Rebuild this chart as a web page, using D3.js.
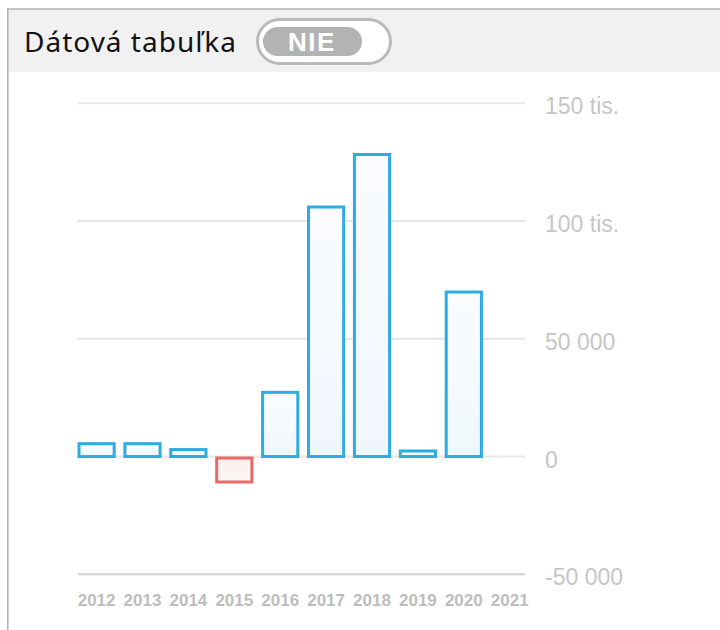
<!DOCTYPE html>
<html>
<head>
<meta charset="utf-8">
<script src="https://cdn.jsdelivr.net/npm/d3@7"></script>
<style>
  html, body { margin: 0; padding: 0; background: #fff; }
  svg { display: block; }
</style>
</head>
<body>
<div id="chart"></div>
<script>
// data
const years = ['2012', '2013', '2014', '2015', '2016', '2017', '2018', '2019', '2020', '2021'];
const values = [6100, 6100, 3600, -10800, 27900, 106600, 128900, 3000, 70500, null];
const yTicks = [-50000, 0, 50000, 100000, 150000];
const yTickLabels = ['-50 000', '0', '50 000', '100 tis.', '150 tis.'];
const headerTitle = 'Dátová tabuľka';
const toggleLabel = 'NIE';

const width = 720;
const height = 630;

const svg = d3.select('#chart').append('svg')
  .attr('width', width)
  .attr('height', height);

const defs = svg.append('defs');
const gradBlue = defs.append('linearGradient').attr('id', 'gBlue').attr('x1', 0).attr('y1', 0).attr('x2', 0).attr('y2', 1);
gradBlue.append('stop').attr('offset', '0%').attr('stop-color', '#fafcfe');
gradBlue.append('stop').attr('offset', '100%').attr('stop-color', '#eff7fb');
const gradRed = defs.append('linearGradient').attr('id', 'gRed').attr('x1', 0).attr('y1', 0).attr('x2', 0).attr('y2', 1);
gradRed.append('stop').attr('offset', '0%').attr('stop-color', '#fbf0ef');
gradRed.append('stop').attr('offset', '100%').attr('stop-color', '#fdf8f7');

// header band + frame
svg.append('rect')
  .attr('x', 8).attr('y', 9)
  .attr('width', width - 8).attr('height', 63)
  .attr('fill', '#f1f1f1');

svg.append('line')
  .attr('x1', 7).attr('x2', width)
  .attr('y1', 9).attr('y2', 9)
  .attr('stroke', '#b4b4b4').attr('stroke-width', 1.6);

svg.append('line')
  .attr('x1', 7.8).attr('x2', 7.8)
  .attr('y1', 8).attr('y2', height)
  .attr('stroke', '#b4b4b4').attr('stroke-width', 1.6);

svg.append('text')
  .attr('x', 24)
  .attr('y', 52)
  .style('font-family', '"Noto Sans", sans-serif')
  .style('font-size', '28px')
  .style('letter-spacing', '1px')
  .attr('fill', '#111')
  .text(headerTitle);

// toggle
svg.append('rect')
  .attr('x', 257.5).attr('y', 19.5)
  .attr('width', 133).attr('height', 44)
  .attr('rx', 22)
  .attr('fill', '#fff')
  .attr('stroke', '#bababa')
  .attr('stroke-width', 3);

svg.append('rect')
  .attr('x', 263).attr('y', 27)
  .attr('width', 99).attr('height', 29)
  .attr('rx', 14.5)
  .attr('fill', '#b3b3b3');

svg.append('text')
  .attr('x', 312)
  .attr('y', 51)
  .attr('text-anchor', 'middle')
  .style('font-family', '"Liberation Sans", Arial, sans-serif')
  .style('font-size', '26px')
  .style('font-weight', 'bold')
  .style('letter-spacing', '1.5px')
  .attr('fill', '#fff')
  .text(toggleLabel);

// scales
const x = d3.scaleBand()
  .domain(years)
  .range([77.5, 528.8])
  .paddingInner(0.168)
  .paddingOuter(0);

const y = d3.scaleLinear()
  .domain([-50000, 150000])
  .range([574.3, 103.3]);

// gridlines
const g = svg.append('g');

g.selectAll('line.grid')
  .data(yTicks)
  .enter()
  .append('line')
  .attr('class', 'grid')
  .attr('x1', 78)
  .attr('x2', 525)
  .attr('y1', d => y(d))
  .attr('y2', d => y(d))
  .attr('stroke', d => d === -50000 ? '#d2d2d2' : '#e6e6e6')
  .attr('stroke-width', 2);

// y labels
g.selectAll('text.ylab')
  .data(yTicks)
  .enter()
  .append('text')
  .attr('class', 'ylab')
  .attr('x', 545)
  .attr('y', d => y(d) + 11)
  .style('font-family', '"Liberation Sans", Arial, sans-serif')
  .style('font-size', '23px')
  .attr('fill', '#c6c6c6')
  .text((d, i) => yTickLabels[i]);

// x labels
const xAxis = d3.axisBottom(x).tickSize(0).tickPadding(0);
const xg = g.append('g')
  .attr('transform', 'translate(0,594)')
  .call(xAxis);
xg.select('.domain').remove();
xg.selectAll('text')
  .attr('dy', '0.71em')
  .style('font-family', '"Liberation Sans", Arial, sans-serif')
  .style('font-size', '17px')
  .style('font-weight', 'bold')
  .attr('fill', '#bdbdbd');

// bars
const sw = 3;
const barData = years.map((yr, i) => ({ year: yr, value: values[i] })).filter(d => d.value !== null);

g.selectAll('rect.bar')
  .data(barData)
  .enter()
  .append('rect')
  .attr('class', 'bar')
  .attr('x', d => x(d.year) + sw / 2)
  .attr('width', x.bandwidth() - sw)
  .attr('y', d => d.value >= 0 ? y(d.value) + sw / 2 : y(0) + sw / 2)
  .attr('height', d => Math.abs(y(d.value) - y(0)) - sw / 2)
  .attr('fill', d => d.value >= 0 ? 'url(#gBlue)' : 'url(#gRed)')
  .attr('stroke', d => d.value >= 0 ? '#2cace2' : '#e96868')
  .attr('stroke-width', sw);
</script>
</body>
</html>
